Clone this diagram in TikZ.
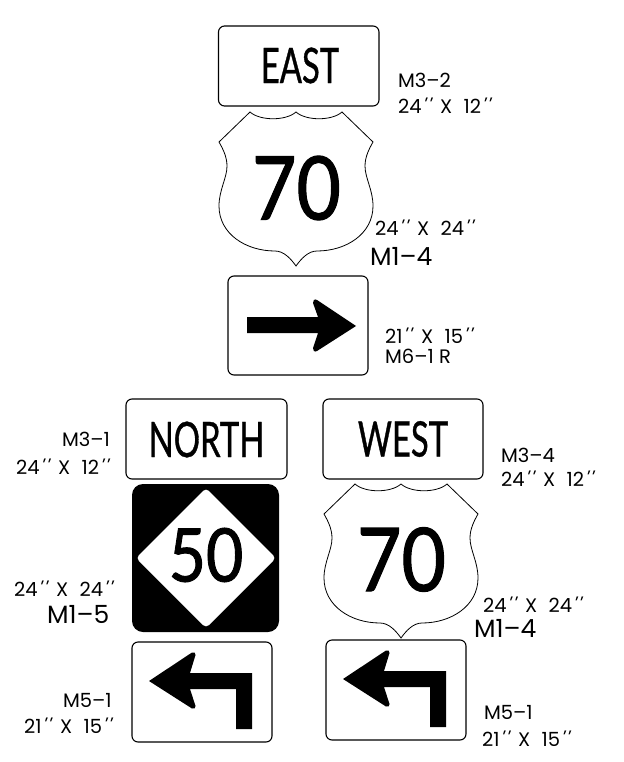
\documentclass[tikz,border=0pt]{standalone}
\usepackage{fontspec}
\usetikzlibrary{positioning}
\setmainfont{Poppins}
\newfontface\signfont[FakeStretch=0.67,FakeBold=0.7]{Lato}
\newfontface\numfont[FakeStretch=0.87,FakeBold=1.2]{Lato}
\newfontface\primefont[FakeSlant=0.35]{Poppins}
\newcommand{\inch}{{\primefont\kern-1.5pt{'}\kern2pt{'}\kern6.5pt}}
\newcommand{\bysize}[2]{#1\inch\ X\ \ \kern1pt#2\inch}
\tikzset{
    panel/.style={draw=black, line width=1.1pt, fill=white, rounded corners=6pt},
    blacktile/.style={fill=black, rounded corners=11pt},
    whitediamond/.style={fill=white, rounded corners=4pt},
    shieldline/.style={draw=black, line width=0.8pt, fill=white},
    legend/.style={anchor=base west, inner sep=0pt, font=\fontsize{19.5}{20}\selectfont},
    legendbig/.style={anchor=base west, inner sep=0pt, font=\fontsize{25}{25}\selectfont},
    signword/.style={inner sep=0pt, font=\signfont\fontsize{49}{49}\selectfont},
    signnum/.style={inner sep=0pt, font=\numfont\fontsize{88}{88}\selectfont},
    tilenum/.style={inner sep=0pt, font=\numfont\fontsize{74}{74}\selectfont},
    % US route shield, drawn from the middle of its top edge
    pics/shield/.style={code={
        \draw[shieldline] (-46,0) .. controls (-36,9) and (-10,9) .. (0,0)
            .. controls (10,9) and (36,9) .. (46,0) -- (77,30)
            .. controls (73,37) and (69,45) .. (69,54)
            .. controls (69,66) and (77,78) .. (77,94)
            .. controls (77,122) and (50,139) .. (21,139)
            .. controls (12,139) and (5,147) .. (0,154)
            .. controls (-5,147) and (-12,139) .. (-21,139)
            .. controls (-50,139) and (-77,122) .. (-77,94)
            .. controls (-77,78) and (-69,66) .. (-69,54)
            .. controls (-69,45) and (-73,37) .. (-77,30) -- cycle;
    }},
    % left turn arrow, drawn from its tip
    pics/leftturn/.style={code={
        \fill (0,0) -- (43,-28.5) .. controls (45,-29.5) and (47,-28) .. (46.5,-26)
            -- (41,-8) -- (103,-8) -- (103,48) -- (87,48) -- (87,8) -- (41,8)
            -- (46.5,25) .. controls (47,27) and (45,28.5) .. (43,27.5) -- cycle;
    }}
}
\begin{document}
\begin{tikzpicture}[x=1pt, y=-1pt]
    \useasboundingbox (0,0) rectangle (623,762);

    % Top assembly
    \draw[panel] (218.5,26) rectangle (379,106);
    \node[signword] (eastword) at (300,65.5) {EAST};
    \pic at (296,112) {shield};
    \node[signnum] (eastnum) at (296.5,188) {70};
    \draw[panel] (228,276) rectangle (368,375);
    \fill (356,326) -- (317,300) .. controls (314.5,298.5) and (312.5,300.5) .. (313,303)
        -- (318,317) -- (247,317) -- (247,333) -- (318,333) -- (313,348)
        .. controls (312.5,350.5) and (314.5,352.5) .. (317,351) -- cycle;

    % Left assembly
    \draw[panel] (126,399) rectangle (287,479);
    \node[signword] (northword) at (206.5,439.5) {NORTH};
    \fill[blacktile] (132,484) rectangle (279,632);
    \fill[whitediamond] (206,488) -- (276,558) -- (206,628) -- (136,558) -- cycle;
    \node[tilenum] (routefifty) at (206,555) {50};
    \draw[panel] (132,642) rectangle (272,742);
    \pic at (149,681) {leftturn};

    % Right assembly
    \draw[panel] (323,399) rectangle (483,479);
    \node[signword] (westword) at (403,439) {WEST};
    \pic at (401,484) {shield};
    \node[signnum] (westnum) at (401.5,559.5) {70};
    \draw[panel] (326,640) rectangle (466,740);
    \pic at (343,679) {leftturn};

    % Legends
    \node[legend] (eastcode) at (398,88) {M3--2};
    \node[legend] (eastsize) at (398,114) {\bysize{24}{12}};
    \node[legend] (shieldsize) at (375,235) {\bysize{24}{24}};
    \node[legendbig] (shieldcode) at (370,265) {M1--4};
    \node[legend] (arrowsize) at (385,343) {\bysize{21}{15}};
    \node[legend] (arrowcode) at (385,363) {M6--1 R};
    \node[legend] (northcode) at (62,446) {M3--1};
    \node[legend] (northsize) at (16,474) {\bysize{24}{12}};
    \node[legend] (tilesize) at (14,596) {\bysize{24}{24}};
    \node[legendbig] (tilecode) at (47,623) {M1--5};
    \node[legend] (turncode) at (63,707) {M5--1};
    \node[legend] (turnsize) at (24,733) {\bysize{21}{15}};
    \node[legend] (westcode) at (501,462) {M3--4};
    \node[legend] (westsize) at (501,486) {\bysize{24}{12}};
    \node[legend] (westshieldsize) at (483,612) {\bysize{24}{24}};
    \node[legendbig] (westshieldcode) at (474,637) {M1--4};
    \node[legend] (westturncode) at (484,719) {M5--1};
    \node[legend] (westturnsize) at (482,746) {\bysize{21}{15}};
\end{tikzpicture}
\end{document}
